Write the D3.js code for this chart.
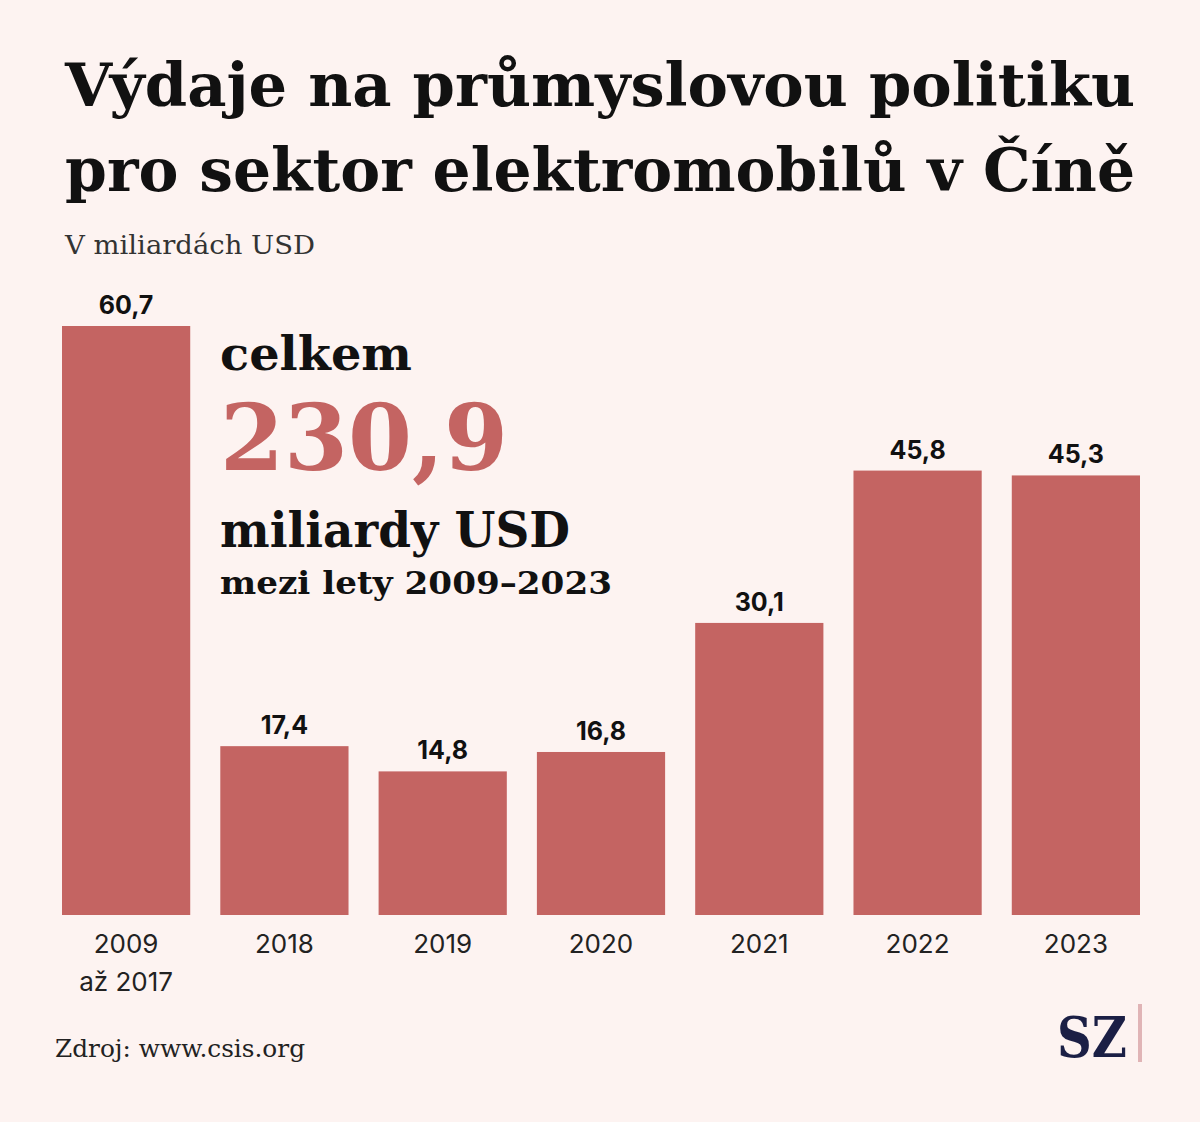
<!DOCTYPE html>
<html><head><meta charset="utf-8">
<script src="https://cdn.jsdelivr.net/npm/d3@7"></script>
<style>body{margin:0;background:#fdf3f1}</style></head>
<body><svg id="c" width="1200" height="1122"></svg>
<script>
const categories = [["2009","až 2017"],["2018"],["2019"],["2020"],["2021"],["2022"],["2023"]];
const values = [60.7,17.4,14.8,16.8,30.1,45.8,45.3];
const valueLabels = ["60,7","17,4","14,8","16,8","30,1","45,8","45,3"];
const svg = d3.select("#c");
svg.append("rect").attr("width",1200).attr("height",1122).attr("fill","#fdf3f1");
const serif = "'DejaVu Serif', serif", sans = "Inter, 'Noto Sans', sans-serif";
const x = d3.scaleBand().domain(d3.range(values.length)).range([62,1140]).paddingInner(0.19).paddingOuter(0);
const y = d3.scaleLinear().domain([0,60.7]).range([915,326]);
svg.selectAll(".bar").data(values).join("rect").attr("x",(d,i)=>x(i)).attr("width",x.bandwidth())
  .attr("y",d=>y(d)).attr("height",d=>915-y(d)).attr("fill","#c46462");
svg.selectAll(".vl").data(values).join("text").attr("x",(d,i)=>x(i)+x.bandwidth()/2).attr("y",d=>y(d)-12)
  .attr("text-anchor","middle").attr("font-family",sans).attr("font-weight",700).attr("font-size",25).attr("fill","#111")
  .text((d,i)=>valueLabels[i]);
categories.forEach((c,i)=>c.forEach((t,j)=>svg.append("text").attr("x",x(i)+x.bandwidth()/2).attr("y",953+j*38)
  .attr("text-anchor","middle").attr("font-family",sans).attr("font-size",26).attr("fill","#222").text(t)));
const t = (s,xx,yy,sz,w,f,fill,len)=>{const e=svg.append("text").attr("x",xx).attr("y",yy).attr("font-size",sz).attr("font-weight",w).attr("font-family",f).attr("fill",fill).text(s); if(len) e.attr("textLength",len).attr("lengthAdjust","spacingAndGlyphs");};
t("Výdaje na průmyslovou politiku",65,106,60,700,serif,"#111",1070);
t("pro sektor elektromobilů v Číně",65,191,60,700,serif,"#111",1070);
t("V miliardách USD",65,254,26,400,serif,"#333",250);
t("celkem",220,370,46,700,serif,"#111",192);
t("230,9",220,470,92,700,serif,"#c46462",288);
t("miliardy USD",220,547,48,700,serif,"#111",350);
t("mezi lety 2009–2023",220,594,32,700,serif,"#111",392);
t("Zdroj: www.csis.org",55,1057,25,400,serif,"#222",250);
t("SZ",1057,1057,56,700,serif,"#1b1f45",70);
svg.append("rect").attr("x",1138).attr("y",1004).attr("width",4).attr("height",58).attr("fill","#e0b4b6");
</script></body></html>
